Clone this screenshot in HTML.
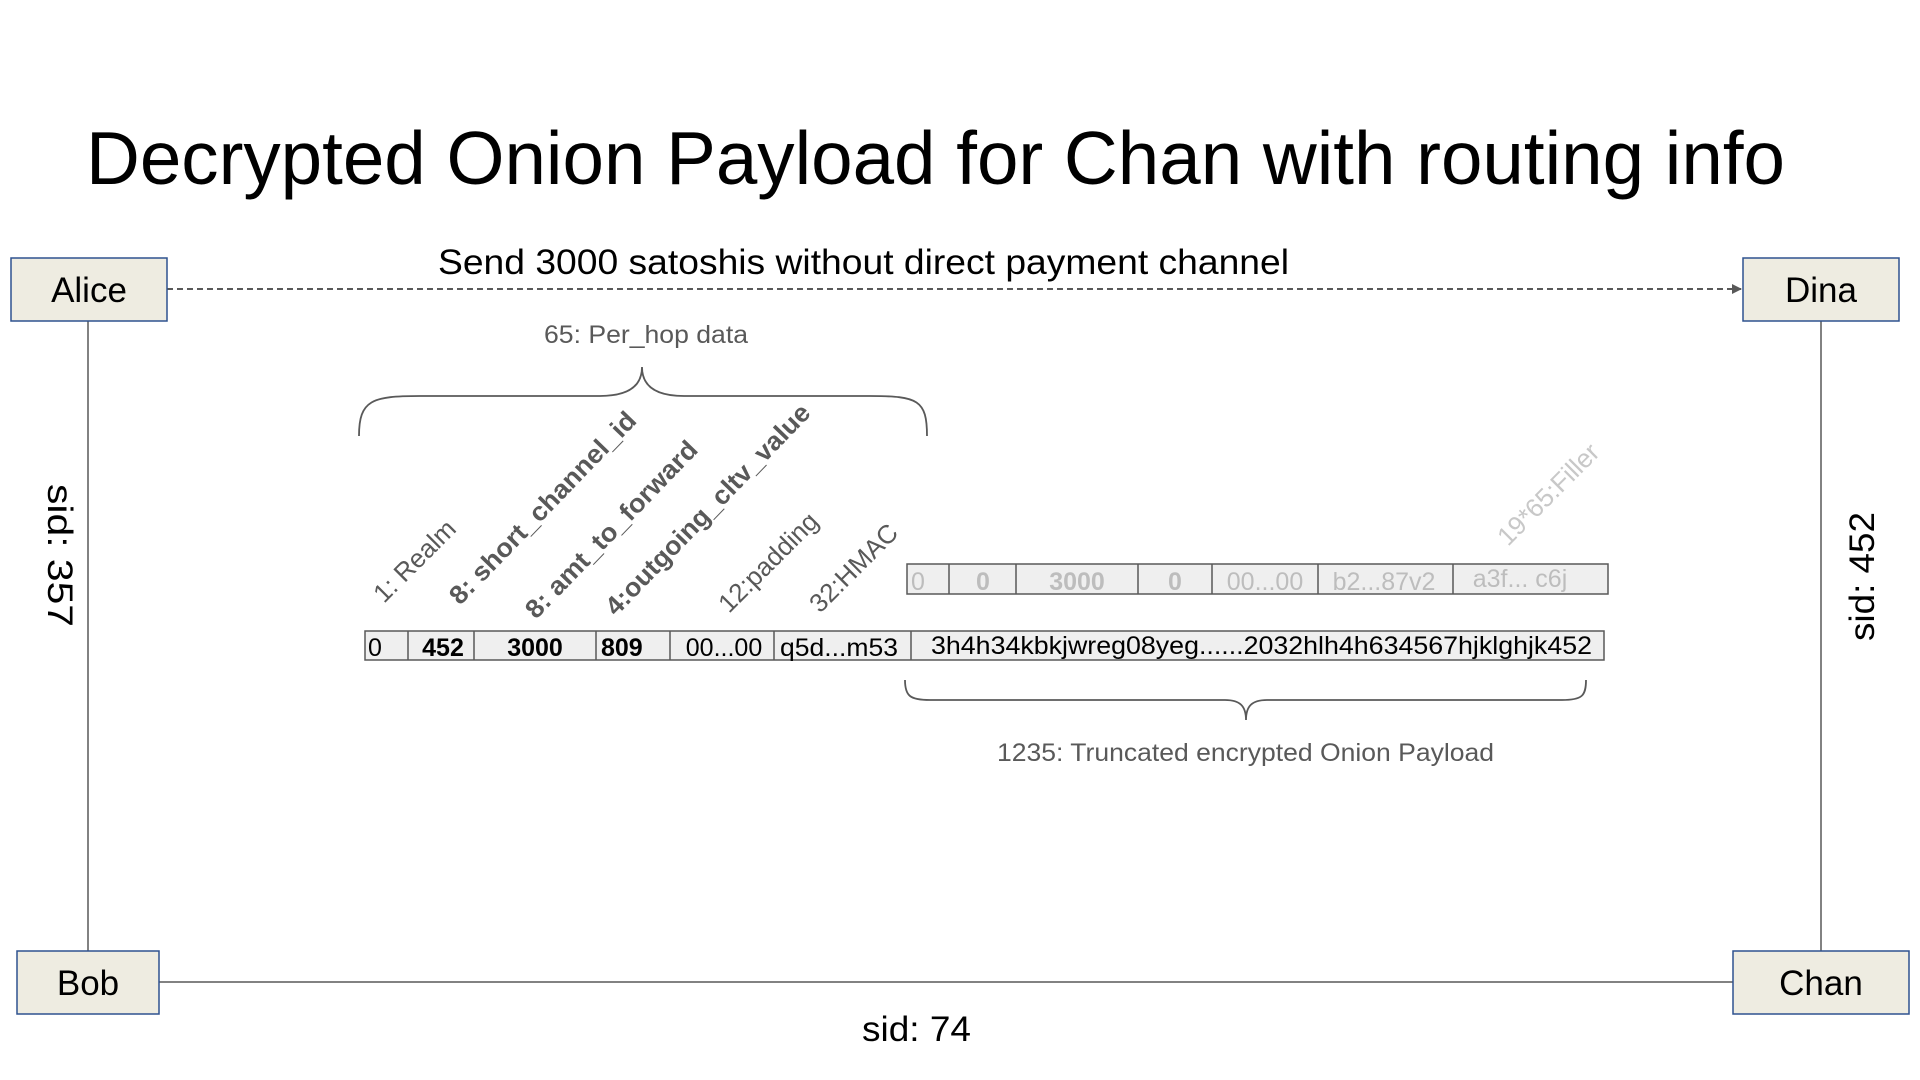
<!DOCTYPE html>
<html><head><meta charset="utf-8"><style>
html,body{margin:0;padding:0;background:#fff}
svg{display:block}
text{font-family:"Liberation Sans",Arial,sans-serif}
</style></head><body>
<svg width="1920" height="1080" viewBox="0 0 1920 1080" xmlns="http://www.w3.org/2000/svg">
<defs><marker id="ah" markerWidth="10" markerHeight="10" refX="9" refY="5" orient="auto" markerUnits="userSpaceOnUse"><path d="M0,0 L10,5 L0,10 z" fill="#595959"/></marker></defs>
<text x="86" y="184" font-size="75" fill="#000" textLength="1699" lengthAdjust="spacingAndGlyphs">Decrypted Onion Payload for Chan with routing info</text>
<!-- lines -->
<line x1="88" y1="321" x2="88" y2="951" stroke="#595959" stroke-width="1.5"/>
<line x1="1821" y1="321" x2="1821" y2="951" stroke="#595959" stroke-width="1.5"/>
<line x1="159" y1="982" x2="1733" y2="982" stroke="#595959" stroke-width="1.5"/>
<line x1="167" y1="289" x2="1741" y2="289" stroke="#595959" stroke-width="2" stroke-dasharray="6,4" marker-end="url(#ah)"/>
<text x="438" y="274" font-size="35" textLength="851" lengthAdjust="spacingAndGlyphs">Send 3000 satoshis without direct payment channel</text>
<!-- boxes -->
<g fill="#eeece1" stroke="#2e528f" stroke-width="1.5">
<rect x="11" y="258" width="156" height="63"/>
<rect x="1743" y="258" width="156" height="63"/>
<rect x="17" y="951" width="142" height="63"/>
<rect x="1733" y="951" width="176" height="63"/>
</g>
<g font-size="35" text-anchor="middle">
<text x="89" y="302">Alice</text>
<text x="1821" y="302">Dina</text>
<text x="88" y="995">Bob</text>
<text x="1821" y="995">Chan</text>
</g>
<text transform="translate(48,484) rotate(90)" font-size="35" textLength="143" lengthAdjust="spacingAndGlyphs">sid:  357</text>
<text transform="translate(1874,641) rotate(-90)" font-size="35" textLength="129" lengthAdjust="spacingAndGlyphs">sid: 452</text>
<text x="862" y="1041" font-size="35" textLength="109" lengthAdjust="spacingAndGlyphs">sid: 74</text>
<!-- braces -->
<text x="544" y="343" font-size="25" fill="#595959" textLength="204" lengthAdjust="spacingAndGlyphs">65: Per_hop data</text>
<path d="M359,436 C359,400 372,396 420,396 L600,396 C630,396 642,385 642,367 C642,385 654,396 684,396 L870,396 C918,396 927,400 927,436" fill="none" stroke="#595959" stroke-width="1.8"/>
<path d="M905,680 C905,696 910,700 930,700 L1225,700 C1240,700 1246,706 1246,720 C1246,706 1252,700 1267,700 L1562,700 C1582,700 1586,696 1586,680" fill="none" stroke="#595959" stroke-width="1.8"/>
<text x="997" y="761" font-size="25" fill="#595959" textLength="497" lengthAdjust="spacingAndGlyphs">1235: Truncated encrypted Onion Payload</text>
<!-- gray row -->
<rect x="907" y="564" width="701" height="30" stroke="#595959" stroke-width="1.5" fill="#efefef"/>
<g stroke="#595959" stroke-width="1.5">
<line x1="949" y1="564" x2="949" y2="594"/><line x1="1016" y1="564" x2="1016" y2="594"/><line x1="1138" y1="564" x2="1138" y2="594"/><line x1="1212" y1="564" x2="1212" y2="594"/><line x1="1318" y1="564" x2="1318" y2="594"/><line x1="1453" y1="564" x2="1453" y2="594"/>
</g>
<g font-size="25" fill="#bdbdbd" text-anchor="middle">
<text x="918" y="590">0</text>
<text x="983" y="590" font-weight="bold">0</text>
<text x="1077" y="590" font-weight="bold">3000</text>
<text x="1175" y="590" font-weight="bold">0</text>
<text x="1265" y="590">00...00</text>
<text x="1384" y="590">b2...87v2</text>
<text x="1520" y="587">a3f... c6j</text>
</g>
<!-- main row -->
<rect x="365" y="631" width="1239" height="29" fill="#efefef" stroke="#595959" stroke-width="1.5"/>
<g stroke="#595959" stroke-width="1.5">
<line x1="408" y1="631" x2="408" y2="660"/><line x1="474" y1="631" x2="474" y2="660"/><line x1="596" y1="631" x2="596" y2="660"/><line x1="670" y1="631" x2="670" y2="660"/><line x1="774" y1="631" x2="774" y2="660"/><line x1="911" y1="631" x2="911" y2="660"/>
</g>
<g font-size="25" fill="#000">
<text x="368" y="656">0</text>
<text x="443" y="656" font-weight="bold" text-anchor="middle">452</text>
<text x="535" y="656" font-weight="bold" text-anchor="middle">3000</text>
<text x="601" y="656" font-weight="bold">809</text>
<text x="724" y="656" text-anchor="middle">00...00</text>
<text x="780" y="656" textLength="118" lengthAdjust="spacingAndGlyphs">q5d...m53</text>
<text x="931" y="654" textLength="661" lengthAdjust="spacingAndGlyphs">3h4h34kbkjwreg08yeg......2032hlh4h634567hjklghjk452</text>
</g>
<!-- rotated labels -->
<g font-size="26" fill="#595959">
<text transform="translate(384,604) rotate(-45)">1: Realm</text>
<text transform="translate(460,606) rotate(-46)" font-weight="bold" textLength="256" lengthAdjust="spacingAndGlyphs">8: short_channel_id</text>
<text transform="translate(536,620) rotate(-46)" font-weight="bold" textLength="235" lengthAdjust="spacingAndGlyphs">8: amt_to_forward</text>
<text transform="translate(616,617) rotate(-46)" font-weight="bold" textLength="282" lengthAdjust="spacingAndGlyphs">4:outgoing_cltv_value</text>
<text transform="translate(729,614) rotate(-45)">12:padding</text>
<text transform="translate(820,614) rotate(-45)">32:HMAC</text>
<text transform="translate(1508,547) rotate(-45)" fill="#c8c8c8">19*65:Filler</text>
</g>
</svg>
</body></html>
